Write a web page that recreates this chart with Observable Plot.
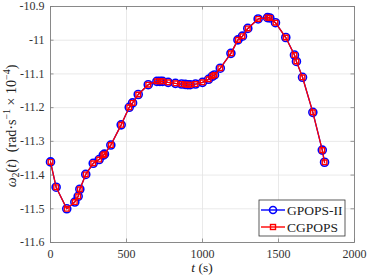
<!DOCTYPE html>
<html>
<head>
<meta charset="utf-8">
<script src="https://cdn.jsdelivr.net/npm/d3@7"></script>
<script src="https://cdn.jsdelivr.net/npm/@observablehq/plot@0.6"></script>
<style>
  html, body { margin: 0; padding: 0; background: #fff; }
  svg { display: block; }
</style>
</head>
<body>
<div id="chart"></div>
<script>
// Data
const timeS = [0,37,107,160,182,193,232,281,320,347,355,397,465,518,540,577,643,700,720,737,774,822,862,886,903,919,954,1000,1040,1064,1079,1117,1187,1233,1263,1298,1366,1428,1443,1480,1548,1605,1618,1658,1726,1788,1803];
const gpopsValues = [-11.361,-11.436,-11.500,-11.480,-11.463,-11.442,-11.398,-11.365,-11.354,-11.341,-11.338,-11.311,-11.251,-11.199,-11.186,-11.161,-11.132,-11.122,-11.122,-11.122,-11.125,-11.128,-11.130,-11.131,-11.132,-11.132,-11.130,-11.125,-11.116,-11.107,-11.103,-11.083,-11.039,-10.999,-10.988,-10.965,-10.937,-10.933,-10.934,-10.948,-10.992,-11.044,-11.063,-11.110,-11.214,-11.326,-11.362];
const cgpopsValues = [-11.361,-11.436,-11.500,-11.480,-11.463,-11.442,-11.398,-11.365,-11.354,-11.341,-11.338,-11.311,-11.251,-11.199,-11.186,-11.161,-11.132,-11.122,-11.122,-11.122,-11.125,-11.128,-11.130,-11.131,-11.132,-11.132,-11.130,-11.125,-11.116,-11.107,-11.103,-11.083,-11.039,-10.999,-10.988,-10.965,-10.937,-10.933,-10.934,-10.948,-10.992,-11.044,-11.063,-11.110,-11.214,-11.326,-11.362];
const xTicks = [0, 500, 1000, 1500, 2000];
const yTicks = [-11.6, -11.5, -11.4, -11.3, -11.2, -11.1, -11, -10.9];
const seriesNames = ["GPOPS-II", "CGPOPS"];
const seriesColors = ["#0000ff", "#ff0000"];

const gp = timeS.map((t, i) => ({t, v: gpopsValues[i]}));
const cg = timeS.map((t, i) => ({t, v: cgpopsValues[i]}));

const W = 367, H = 277;
const mt = 6, mb = 35, ml = 50, mr = 13;
const ph = H - mt - mb, pw = W - ml - mr;
const FONT = "Liberation Serif, serif";

const chart = Plot.plot({
  width: W, height: H,
  marginTop: mt, marginBottom: mb, marginLeft: ml, marginRight: mr,
  style: {fontFamily: FONT, fontSize: "11.5px", color: "#222", background: "#fff"},
  x: {domain: [0, 2000], label: null},
  y: {domain: [-11.6, -10.9], label: null},
  marks: [
    Plot.gridX(xTicks, {stroke: "#e3e3e3", strokeOpacity: 1, strokeWidth: 0.8}),
    Plot.gridY(yTicks, {stroke: "#e3e3e3", strokeOpacity: 1, strokeWidth: 0.8}),
    Plot.frame({stroke: "#7f7f7f", strokeWidth: 0.9}),
    Plot.tickX(xTicks, {x: d => d, insetTop: ph - 3.5, stroke: "#7f7f7f", strokeWidth: 0.8}),
    Plot.tickX(xTicks, {x: d => d, insetBottom: ph - 3.5, stroke: "#7f7f7f", strokeWidth: 0.8}),
    Plot.tickY(yTicks, {y: d => d, insetRight: pw - 3.5, stroke: "#7f7f7f", strokeWidth: 0.8}),
    Plot.tickY(yTicks, {y: d => d, insetLeft: pw - 3.5, stroke: "#7f7f7f", strokeWidth: 0.8}),
    Plot.axisX(xTicks, {tickSize: 0, tickPadding: 7, tickFormat: d => String(d), fill: "#333", fontSize: 12}),
    Plot.axisY(yTicks, {tickSize: 0, tickPadding: 6, tickFormat: d => String(d), fill: "#333", fontSize: 12}),
    Plot.line(gp, {x: "t", y: "v", stroke: seriesColors[0], strokeWidth: 1.3}),
    Plot.dot(gp, {x: "t", y: "v", r: 4, stroke: seriesColors[0], strokeWidth: 1.6, fill: "none", symbol: "circle"}),
    Plot.line(cg, {x: "t", y: "v", stroke: seriesColors[1], strokeWidth: 1.3}),
    Plot.dot(cg, {x: "t", y: "v", r: 2.6, stroke: seriesColors[1], strokeWidth: 1.4, fill: "none", symbol: "square"})
  ]
});

document.getElementById("chart").appendChild(chart);

const svg = d3.select(chart);
// x-axis title
const xl = svg.append("text")
  .attr("x", ml + pw / 2).attr("y", H - 5)
  .attr("text-anchor", "middle")
  .attr("font-family", FONT).attr("font-size", 13.5).attr("fill", "#222");
xl.append("tspan").attr("font-style", "italic").text("t");
xl.append("tspan").text(" (s)");

// y-axis title
const yl = svg.append("text")
  .attr("transform", `translate(16,${mt + ph / 2 + 2}) rotate(-90)`)
  .attr("text-anchor", "middle")
  .attr("font-family", FONT).attr("font-size", 14).attr("fill", "#222");
yl.append("tspan").attr("font-style", "italic").text("ω");
yl.append("tspan").attr("font-size", 10).attr("dy", 3).text("2");
yl.append("tspan").attr("dy", -3).text("(");
yl.append("tspan").attr("font-style", "italic").text("t");
yl.append("tspan").text(")  (rad·s");
yl.append("tspan").attr("font-size", 10).attr("dy", -6).text("−1");
yl.append("tspan").attr("dy", 6).text(" × 10");
yl.append("tspan").attr("font-size", 10).attr("dy", -6).text("−4");
yl.append("tspan").attr("dy", 6).text(")");

// legend
const lx = 259, ly = 200, lw = 86, lh = 36;
const lg = svg.append("g").attr("text-anchor", "start");
lg.append("rect").attr("x", lx).attr("y", ly).attr("width", lw).attr("height", lh)
  .attr("fill", "#fff").attr("stroke", "#333").attr("stroke-width", 0.8);
seriesNames.forEach((name, i) => {
  const yy = ly + 10 + i * 17;
  lg.append("line").attr("x1", lx + 2).attr("x2", lx + 26).attr("y1", yy).attr("y2", yy)
    .attr("stroke", seriesColors[i]).attr("stroke-width", 1.4);
  if (i === 0) {
    lg.append("circle").attr("cx", lx + 14).attr("cy", yy).attr("r", 3.5)
      .attr("fill", "none").attr("stroke", seriesColors[i]).attr("stroke-width", 1.6);
  } else {
    lg.append("rect").attr("x", lx + 14 - 2.5).attr("y", yy - 2.5).attr("width", 5).attr("height", 5)
      .attr("fill", "none").attr("stroke", seriesColors[i]).attr("stroke-width", 1.4);
  }
  lg.append("text").attr("x", lx + 28).attr("y", yy + 4.5).attr("text-anchor", "start")
    .attr("font-family", FONT).attr("font-size", 13.5).attr("fill", "#222").text(name);
});
</script>
</body>
</html>
